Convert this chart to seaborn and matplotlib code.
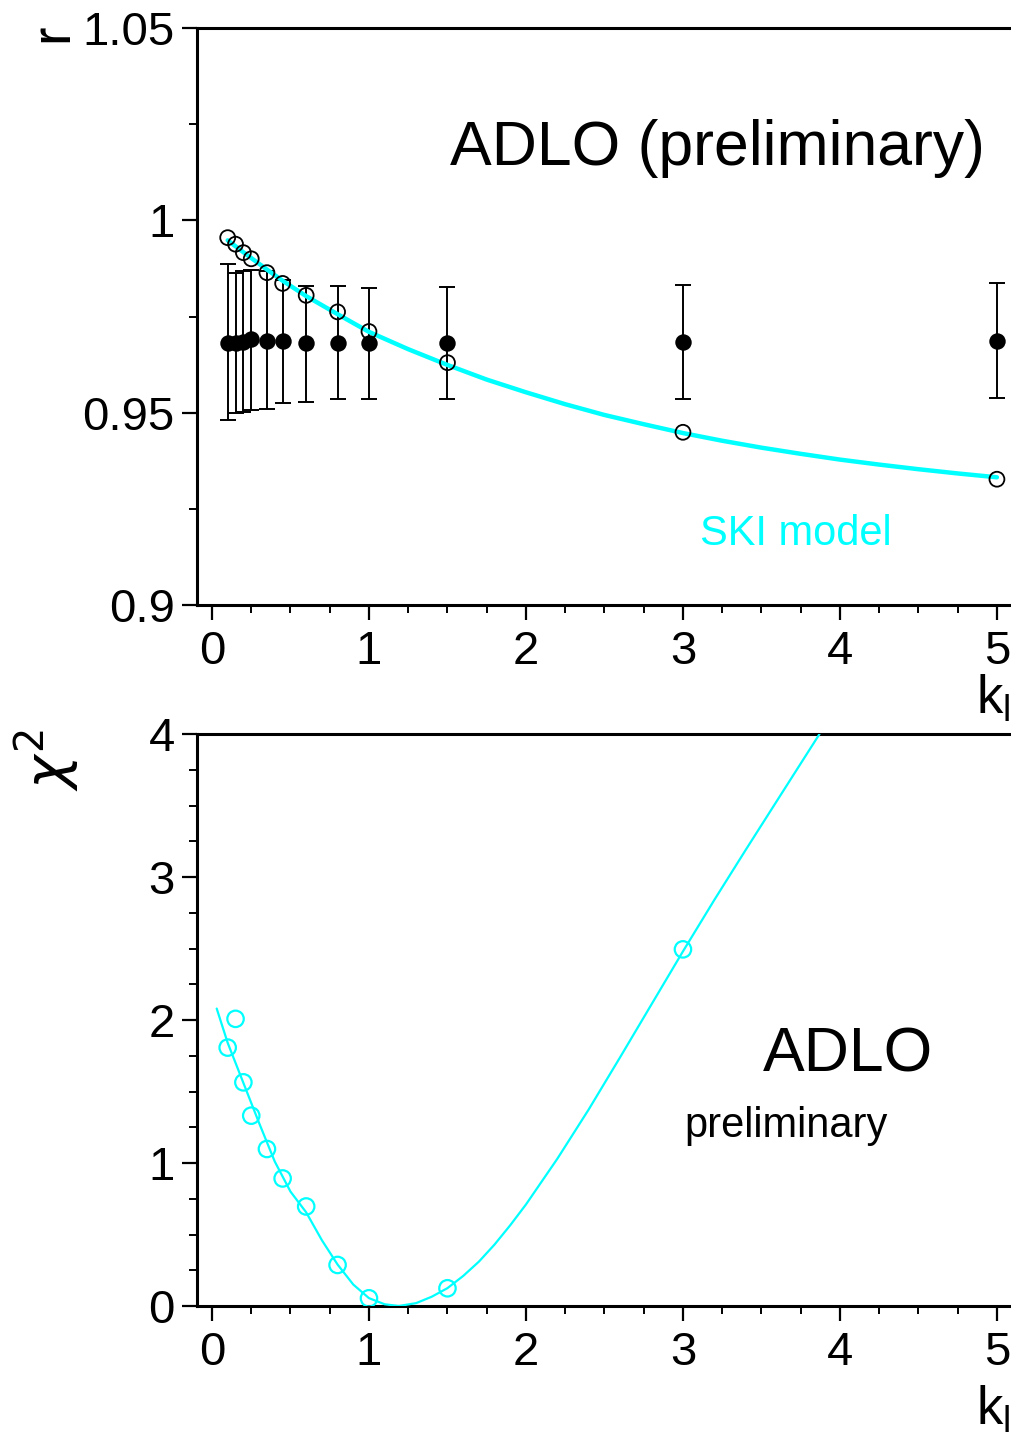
import numpy as np
import pandas as pd
import matplotlib
matplotlib.use("Agg")
import matplotlib.pyplot as plt
from matplotlib.ticker import MultipleLocator
import seaborn as sns

# k values where the fits were made
k_points = [0.1, 0.15, 0.2, 0.25, 0.35, 0.45, 0.6, 0.8, 1.0, 1.5, 3.0, 5.0]

# measured r (filled dots) with upper / lower ends of the error bars
r_data = [0.968, 0.968, 0.9684, 0.9691, 0.9686, 0.9686, 0.968, 0.968, 0.968, 0.968, 0.9684, 0.9686]
r_high = [0.9886, 0.9864, 0.9868, 0.9871, 0.9868, 0.9845, 0.9829, 0.9829, 0.9823, 0.9826, 0.9831, 0.9836]
r_low = [0.948, 0.950, 0.9502, 0.9507, 0.9509, 0.9524, 0.9528, 0.9535, 0.9535, 0.9535, 0.9535, 0.9537]

# SKI model prediction (open circles) and its curve
r_ski = [0.9955, 0.9938, 0.9916, 0.990, 0.9864, 0.9836, 0.9805, 0.9762, 0.9711, 0.963, 0.9449, 0.9327]
ski_k = [0.1, 0.2, 0.35, 0.45, 0.6, 0.8, 1.0, 1.25, 1.5, 1.75, 2.0, 2.25, 2.5, 2.75, 3.0,
         3.25, 3.5, 3.75, 4.0, 4.25, 4.5, 4.75, 5.0]
ski_r = [0.9948, 0.9917, 0.9872, 0.9843, 0.9803, 0.9756, 0.9710, 0.9665, 0.9624, 0.9586, 0.9553,
         0.9522, 0.9494, 0.9470, 0.9447, 0.9427, 0.9409, 0.9393, 0.9378, 0.9365, 0.9353, 0.9342, 0.9332]

# chi2 points and curve
chi2_k = [0.1, 0.15, 0.2, 0.25, 0.35, 0.45, 0.6, 0.8, 1.0, 1.5, 3.0]
chi2_pts = [1.807, 2.008, 1.564, 1.331, 1.098, 0.892, 0.696, 0.287, 0.054, 0.124, 2.494]
curve_k = [0.03, 0.1, 0.2, 0.3, 0.4, 0.5, 0.6, 0.7, 0.8, 0.9, 1.0, 1.1, 1.19, 1.3, 1.4, 1.5,
           1.6, 1.7, 1.8, 1.9, 2.0, 2.2, 2.4, 2.6, 2.8, 3.0, 3.2, 3.4, 3.6, 3.87]
curve_chi2 = [2.08, 1.84, 1.56, 1.28, 1.01, 0.80, 0.655, 0.46, 0.29, 0.15, 0.055, 0.012, 0.0, 0.02,
              0.065, 0.125, 0.21, 0.31, 0.43, 0.565, 0.71, 1.03, 1.375, 1.74, 2.11, 2.48, 2.84,
              3.19, 3.535, 4.0]

x_ticks = [0, 1, 2, 3, 4, 5]
r_ticks = [0.9, 0.95, 1.0, 1.05]
r_tick_labels = ["0.9", "0.95", "1", "1.05"]
chi2_ticks = [0, 1, 2, 3, 4]

sns.set_style("ticks")
plt.rcParams["font.family"] = ["Liberation Sans", "DejaVu Sans"]
plt.rcParams["mathtext.fontset"] = "dejavusans"
for key in ["text.color", "axes.labelcolor", "xtick.color", "ytick.color", "axes.edgecolor"]:
    plt.rcParams[key] = "black"

W, H = 1012, 1433
fig = plt.figure(figsize=(W / 100, H / 100), dpi=100)


def px_x(p):
    return p / W


def px_y(p):
    return 1 - p / H


def style_axes(ax):
    for s in ["left", "bottom", "top"]:
        ax.spines[s].set_linewidth(2.2)
        ax.spines[s].set_color("black")
    ax.spines["right"].set_visible(False)
    ax.tick_params(which="major", direction="out", length=11, width=1.6, labelsize=34, pad=5,
                   right=False, top=False, colors="black")
    ax.tick_params(axis="x", which="major", pad=7)
    ax.tick_params(which="minor", direction="out", length=6, width=1.4, right=False, top=False)
    ax.xaxis.set_minor_locator(MultipleLocator(0.25))
    ax.set_xlim(-0.0955, 5.096)
    ax.set_xticks(x_ticks)
    ax.set_xlabel("")
    ax.set_ylabel("")


# ---------- top panel ----------
ax1 = fig.add_axes([px_x(197), px_y(605), 1 - px_x(197), (605 - 28) / H])
df_r = pd.DataFrame({"k": k_points, "r": r_data, "hi": r_high, "lo": r_low, "ski": r_ski})
yerr = [df_r["r"] - df_r["lo"], df_r["hi"] - df_r["r"]]
ax1.errorbar(df_r["k"], df_r["r"], yerr=yerr, fmt="none", ecolor="black", elinewidth=1.4,
             capsize=5.5, capthick=1.4, zorder=2)
sns.lineplot(x=ski_k, y=ski_r, ax=ax1, color="#00FFFF", linewidth=3.2, sort=False,
             estimator=None, zorder=3)
sns.scatterplot(data=df_r, x="k", y="r", ax=ax1, color="black", s=140, edgecolor="black",
                linewidth=0, zorder=4)
sns.scatterplot(data=df_r, x="k", y="ski", ax=ax1, facecolor="none", edgecolor="black",
                s=115, linewidth=1.3, zorder=5)
style_axes(ax1)
ax1.set_ylim(0.9, 1.05)
ax1.set_yticks(r_ticks)
ax1.set_yticklabels(r_tick_labels)
ax1.yaxis.set_minor_locator(MultipleLocator(0.025))

# ---------- bottom panel ----------
ax2 = fig.add_axes([px_x(197), px_y(1306), 1 - px_x(197), (1306 - 734) / H])
sns.lineplot(x=curve_k, y=curve_chi2, ax=ax2, color="#00FFFF", linewidth=1.6, sort=False,
             estimator=None, zorder=3)
sns.scatterplot(x=chi2_k, y=chi2_pts, ax=ax2, facecolor="none", edgecolor="#00FFFF",
                s=140, linewidth=1.6, zorder=4)
style_axes(ax2)
ax2.set_ylim(0, 4)
ax2.set_yticks(chi2_ticks)
ax2.yaxis.set_minor_locator(MultipleLocator(0.25))

# ---------- texts ----------
fig.text(px_x(450), px_y(165), "ADLO (preliminary)", fontsize=45, va="baseline", ha="left")
fig.text(px_x(700), px_y(545), "SKI model", fontsize=30, color="#00FFFF", va="baseline", ha="left")
fig.text(px_x(763), px_y(1072), "ADLO", fontsize=45, va="baseline", ha="left")
fig.text(px_x(684), px_y(1137), "preliminary", fontsize=30, va="baseline", ha="left")

fig.text(px_x(53), px_y(33), "r", fontsize=40, rotation=90, ha="center", va="center")
fig.text(px_x(47), px_y(760), r"$\chi^2$", fontsize=41, rotation=90, ha="center", va="center")
fig.text(px_x(976), px_y(713), r"k$_\mathregular{l}$", fontsize=38, ha="left", va="baseline")
fig.text(px_x(976), px_y(1424), r"k$_\mathregular{l}$", fontsize=38, ha="left", va="baseline")

fig.savefig("out.png", dpi=100)
